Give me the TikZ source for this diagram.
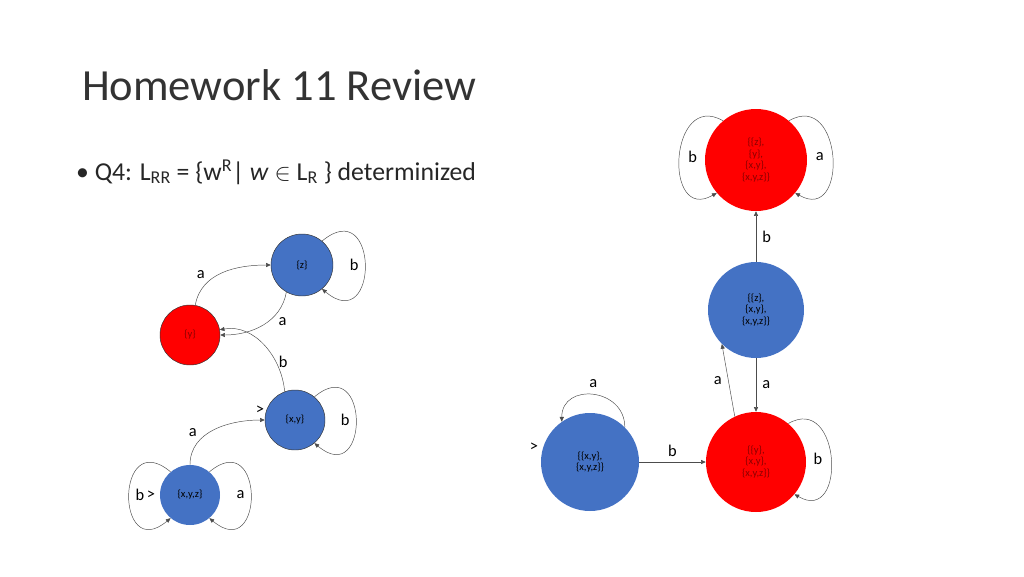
\documentclass[tikz,border=0pt]{standalone}
\usepackage{fontspec}
\setmainfont{Carlito}
\usetikzlibrary{arrows.meta}
\definecolor{stblue}{HTML}{4472C4}
\definecolor{stred}{HTML}{FF0000}
\definecolor{txtred}{HTML}{8B0000}
\tikzset{every picture/.style={line width=0.4pt}}

\begin{document}
\begin{tikzpicture}[x=0.03cm,y=-0.03cm,
    st/.style={circle,inner sep=0pt,align=center,font=\fontsize{9}{10}\selectfont},
    blu/.style={st,fill=stblue,text=black},
    rd/.style={st,fill=stred,text=txtred},
    ed/.style={-{Triangle[length=4pt,width=3.5pt]},draw=black!70},
    lbl/.style={font=\fontsize{14}{14}\selectfont}]
        \useasboundingbox (0,0) rectangle (1024,576);
        % title and bullet
        \node[anchor=base west,font=\fontsize{38}{40}\selectfont,text=black!80] (title) at (78,100) {Homework 11 Review};
        \node[anchor=west,font=\fontsize{22}{24}\selectfont,text=black!85] (q4) at (72,172)
            {\textbullet\ Q4: L\textsubscript{RR} = \{w\textsuperscript{R}| \textit{w} $\in$ L\textsubscript{R} \} determinized};

        % left automaton
        \node[blu,draw=black!80,minimum size=62\pgflinewidth*0+1.86cm] (z) at (302,265) {\{z\}};
        \node[rd,draw=black!80,minimum size=1.8cm] (y) at (190,335) {\{y\}};
        \node[blu,draw=black!80,minimum size=1.8cm] (xy) at (295,420) {\{x,y\}};
        \node[blu,minimum size=1.8cm] (xyz) at (190,495) {\{x,y,z\}};

        \draw[ed] (y.80) to[out=80,in=180] node[lbl,pos=0.3,above left=-1pt] {a} (z.180);
        \draw[ed] (z.240) to[out=-100,in=0] node[lbl,pos=0.3,below right=-1pt] {a} (y.0);
        \draw[ed] (xy.110) to[out=95,in=10] node[lbl,pos=0.3,right=-1pt] {b} (y.10);
        \draw[ed] (xyz.90) to[out=90,in=180] node[lbl,pos=0.3,above left=-1pt] {a} (xy.180);
        \draw[ed] (z.50) to[out=40,in=-40,looseness=4] node[lbl,pos=0.5,left=2pt] {b} (z.-50);
        \draw[ed] (xy.50) to[out=40,in=-40,looseness=4] node[lbl,pos=0.5,left=2pt] {b} (xy.-50);
        \draw[ed] (xyz.50) to[out=40,in=-40,looseness=4] node[lbl,pos=0.5,left=2pt] {a} (xyz.-50);
        \draw[ed] (xyz.130) to[out=140,in=220,looseness=4] node[lbl,pos=0.5,right=2pt] {b} (xyz.230);
        \node[lbl] (sxy) at (260,410) {>};
        \node[lbl] (sxyz) at (151,495) {>};

        % right automaton
        \node[rd,minimum size=3.06cm] (top) at (756,160) {\{\{z\},\\\{y\},\\\{x,y\},\\\{x,y,z\}\}};
        \node[blu,minimum size=2.88cm] (mid) at (756,310) {\{\{z\},\\\{x,y\},\\\{x,y,z\}\}};
        \node[rd,minimum size=3cm] (bot) at (756,462) {\{\{y\},\\\{x,y\},\\\{x,y,z\}\}};
        \node[blu,minimum size=2.94cm] (start) at (590,462) {\{\{x,y\},\\\{x,y,z\}\}};

        \draw[ed] (mid) -- node[lbl,right=2pt] {b} (top);
        \draw[ed] (bot.115) -- node[lbl,left=2pt] {a} (mid.-135);
        \draw[ed] (mid.-90) -- node[lbl,right=2pt] {a} (bot.90);
        \draw[ed] (start) -- node[lbl,above=1pt] {b} (bot);
        \draw[ed] (top.130) to[out=150,in=210,looseness=2.2] node[lbl,pos=0.5,right=4pt] {b} (top.220);
        \draw[ed] (top.50) to[out=30,in=-30,looseness=2.2] node[lbl,pos=0.5,left=4pt] {a} (top.-40);
        \draw[ed] (bot.50) to[out=30,in=-30,looseness=2.2] node[lbl,pos=0.5,left=4pt] {b} (bot.-40);
        \draw[ed] (start.45) to[out=90,in=90,looseness=1.6] node[lbl,above=3pt] {a} (start.125);
        \node[lbl] (sstart) at (534,447) {>};
    \end{tikzpicture}
\end{document}
